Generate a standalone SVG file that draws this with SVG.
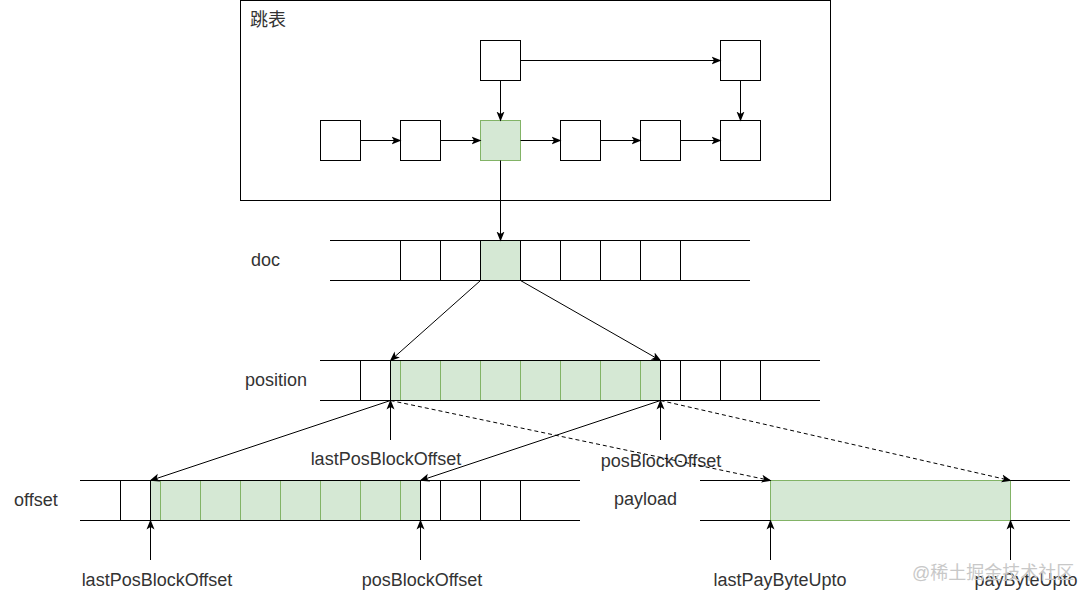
<svg xmlns="http://www.w3.org/2000/svg" width="1091" height="601" viewBox="0 0 1091 601">
<defs>
<marker id="arr" markerUnits="userSpaceOnUse" markerWidth="10" markerHeight="10" viewBox="0 0 10 10" refX="9" refY="5" orient="auto">
<path d="M0,1 L10,5 L0,9 L2.5,5 z" fill="#000"/>
</marker>
<style>
.box{fill:#fff;stroke:#000;stroke-width:1}
.g{fill:#d5e8d4;stroke:#82b366;stroke-width:1}
.ln{stroke:#000;stroke-width:1;fill:none}
.gl{stroke:#82b366;stroke-width:1;fill:none}
.c{stroke:#000;stroke-width:1;fill:none;marker-end:url(#arr)}
.d{stroke:#000;stroke-width:1;fill:none;stroke-dasharray:4 3;marker-end:url(#arr)}
text{font-family:"Liberation Sans",Arial,"Noto Sans CJK SC",sans-serif;font-size:18px;fill:#333}
.m{text-anchor:middle}
</style>
</defs>
<rect width="1091" height="601" fill="#fff"/>

<g id="skiplist">
<rect class="box" x="240.5" y="0.5" width="590" height="200"/>
<text x="250" y="26">跳表</text>
</g>
<g id="sl-top1"><rect class="box" x="480.5" y="40.5" width="40" height="40"/></g>
<g id="sl-top2"><rect class="box" x="720.5" y="40.5" width="40" height="40"/></g>
<g id="sl-n1"><rect class="box" x="320.5" y="120.5" width="40" height="40"/></g>
<g id="sl-n2"><rect class="box" x="400.5" y="120.5" width="40" height="40"/></g>
<g id="sl-n3"><rect class="g" x="480.5" y="120.5" width="40" height="40"/></g>
<g id="sl-n4"><rect class="box" x="560.5" y="120.5" width="40" height="40"/></g>
<g id="sl-n5"><rect class="box" x="640.5" y="120.5" width="40" height="40"/></g>
<g id="sl-n6"><rect class="box" x="720.5" y="120.5" width="40" height="40"/></g>

<g id="doc">
<text x="251" y="266">doc</text>
<rect class="g" x="480.5" y="240.5" width="40" height="40"/>
<path class="ln" d="M330,240.5H750M330,280.5H750M400.5,240.5V280.5M440.5,240.5V280.5M480.5,240.5V280.5M520.5,240.5V280.5M560.5,240.5V280.5M600.5,240.5V280.5M640.5,240.5V280.5M680.5,240.5V280.5"/>
</g>

<g id="position">
<text x="245" y="386">position</text>
<rect class="g" x="390.5" y="360.5" width="270" height="40"/>
<path class="gl" d="M400.5,360.5V400.5M440.5,360.5V400.5M480.5,360.5V400.5M520.5,360.5V400.5M560.5,360.5V400.5M600.5,360.5V400.5M640.5,360.5V400.5"/>
<path class="ln" d="M320,360.5H820M320,400.5H820M360.5,360.5V400.5M390.5,360.5V400.5M660.5,360.5V400.5M680.5,360.5V400.5M720.5,360.5V400.5M760.5,360.5V400.5"/>
</g>

<g id="offset">
<text x="14" y="506">offset</text>
<rect class="g" x="150.5" y="480.5" width="270" height="40"/>
<path class="gl" d="M160.5,480.5V520.5M200.5,480.5V520.5M240.5,480.5V520.5M280.5,480.5V520.5M320.5,480.5V520.5M360.5,480.5V520.5M400.5,480.5V520.5"/>
<path class="ln" d="M80,480.5H580M80,520.5H580M120.5,480.5V520.5M150.5,480.5V520.5M420.5,480.5V520.5M440.5,480.5V520.5M480.5,480.5V520.5M520.5,480.5V520.5"/>
</g>

<g id="payload">
<text x="614" y="505">payload</text>
<path class="ln" d="M700,480.5H1070M700,520.5H1070"/>
<rect class="g" x="770.5" y="480.5" width="240" height="40"/>
</g>

<g id="labels">
<text class="m" x="386" y="465">lastPosBlockOffset</text>
<text class="m" x="661" y="467">posBlockOffset</text>
<text class="m" x="157" y="586">lastPosBlockOffset</text>
<text class="m" x="422" y="586">posBlockOffset</text>
<text class="m" x="780" y="586">lastPayByteUpto</text>
<text class="m" x="1026" y="586">payByteUpto</text>
</g>

<g id="connectors">
<path class="c" d="M520.5,60.5H720.5"/>
<path class="c" d="M500.5,80.5V120.5"/>
<path class="c" d="M740.5,80.5V120.5"/>
<path class="c" d="M360.5,140.5H400.5"/>
<path class="c" d="M440.5,140.5H480.5"/>
<path class="c" d="M520.5,140.5H560.5"/>
<path class="c" d="M600.5,140.5H640.5"/>
<path class="c" d="M680.5,140.5H720.5"/>
<path class="c" d="M500.5,160.5V240.5"/>
<path class="c" d="M480.5,280.5L390.5,360.5"/>
<path class="c" d="M520.5,280.5L660.5,360.5"/>
<path class="c" d="M390.5,400.5L150.5,480.5"/>
<path class="c" d="M660.5,400.5L420.5,480.5"/>
<path class="d" d="M390.5,400.5L770.5,480.5"/>
<path class="d" d="M660.5,400.5L1010.5,480.5"/>
<path class="c" d="M390.5,440V400.5"/>
<path class="c" d="M660.5,440V400.5"/>
<path class="c" d="M150.5,560V520.5"/>
<path class="c" d="M420.5,560V520.5"/>
<path class="c" d="M770.5,560V520.5"/>
<path class="c" d="M1010.5,560V520.5"/>
</g>

<text x="912" y="579" style="font-size:18px;fill:#c8c8c8">@稀土掘金技术社区</text>
</svg>
